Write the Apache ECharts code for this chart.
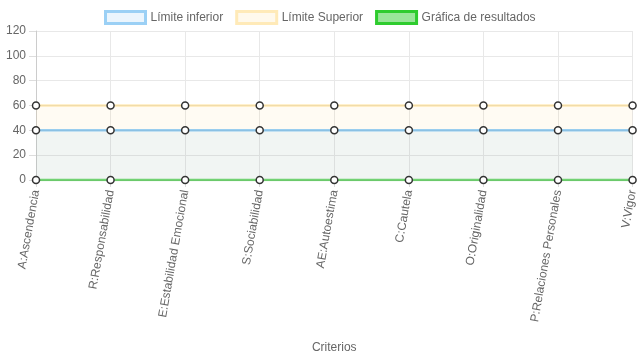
<!DOCTYPE html>
<html><head><meta charset="utf-8">
<script src="https://cdn.jsdelivr.net/npm/echarts@6/dist/echarts.min.js"></script>
<style>html,body{margin:0;padding:0;background:#fff}#c{width:639px;height:360px}</style>
</head><body><div id="c"></div>
<script>
const categories = ['A:Ascendencia','R:Responsabilidad','E:Estabilidad Emocional','S:Sociabilidad','AE:Autoestima','C:Cautela','O:Originalidad','P:Relaciones Personales','V:Vigor'];
const limiteInferior = [40,40,40,40,40,40,40,40,40];
const limiteSuperior = [60,60,60,60,60,60,60,60,60];
const resultados = [0,0,0,0,0,0,0,0,0];
const yTicks = {min:0, max:120, interval:20};
const FONT = 'Arial, "Liberation Sans", Helvetica, sans-serif';

const chart = echarts.init(document.getElementById('c'));
function mk(name, data, line, fill, z){
  return {name, type:'line', data, z,
    symbol:'circle', symbolSize:7, showSymbol:true,
    itemStyle:{color:'#fff', borderColor:'#333', borderWidth:1.5},
    lineStyle:{color:line, width:2.5},
    areaStyle: fill ? {color:fill, origin:'start'} : undefined,
    emphasis:{disabled:true}, animation:false};
}
chart.setOption({
  animation:false,
  textStyle:{fontFamily:FONT},
  legend:{top:5, left:99, itemWidth:40, itemHeight:12, itemGap:12,
    textStyle:{color:'#666', fontSize:12, fontFamily:FONT},
    data:[
      {name:'Límite inferior', icon:'rect', itemStyle:{color:'#ebf5fd', borderColor:'#9bd0f5', borderWidth:3}},
      {name:'Límite Superior', icon:'rect', itemStyle:{color:'#fff9ec', borderColor:'#ffeab8', borderWidth:3}},
      {name:'Gráfica de resultados', icon:'rect', itemStyle:{color:'#99e699', borderColor:'#2ecc2e', borderWidth:3}}
    ]},
  grid:{left:36, right:1, top:31, bottom:180, containLabel:false},
  xAxis:{type:'category', data:categories, boundaryGap:false,
    name:'Criterios', nameLocation:'middle', nameGap:162,
    nameTextStyle:{color:'#666', fontSize:12, fontFamily:FONT},
    axisLine:{show:true, lineStyle:{color:'#ddd'}},
    axisTick:{show:true, length:7, lineStyle:{color:'#ddd'}},
    splitLine:{show:true, lineStyle:{color:'#e8e8e8'}},
    axisLabel:{rotate:80, color:'#666', fontSize:12, fontFamily:FONT, margin:10, interval:0}},
  yAxis:{type:'value', min:yTicks.min, max:yTicks.max, interval:yTicks.interval,
    axisLine:{show:true, lineStyle:{color:'#ccc'}},
    axisTick:{show:true, length:7, lineStyle:{color:'#ddd'}},
    splitLine:{show:true, lineStyle:{color:'#e8e8e8'}},
    axisLabel:{color:'#666', fontSize:12, fontFamily:FONT, margin:10}},
  series:[
    mk('Límite Superior', limiteSuperior, 'rgba(255,205,86,0.4)', 'rgba(255,205,86,0.1)', 2),
    mk('Límite inferior', limiteInferior, 'rgba(54,162,235,0.5)', 'rgba(54,162,235,0.1)', 3),
    mk('Gráfica de resultados', resultados, 'rgba(46,190,46,0.65)', null, 4)
  ]
});
</script></body></html>
